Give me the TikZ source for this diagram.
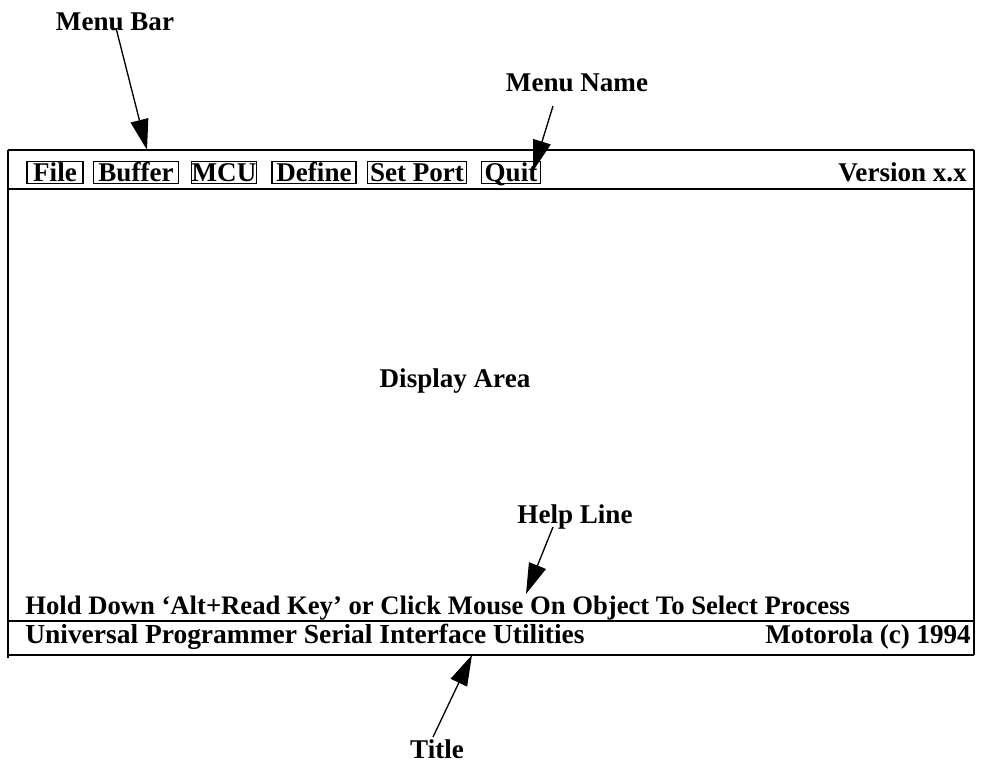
\documentclass[tikz,border=0pt]{standalone}
\usepackage{fontspec}
\setmainfont{Liberation Serif}
\usetikzlibrary{arrows.meta}
\begin{document}
\begin{tikzpicture}[x=0.75pt,y=-0.75pt,
  txt/.style={font=\bfseries\fontsize{20.3}{23}\selectfont, inner sep=0pt},
  menubox/.style={txt, draw, line width=0.9pt, text height=13.8pt, text depth=1pt,
                  inner ysep=1pt, inner xsep=0pt, anchor=base},
  frame/.style={line width=1pt},
  callout/.style={line width=1pt, -{Triangle[length=23pt,width=13.5pt]}}
]
\useasboundingbox (0,0) rectangle (981,768);

% screen outline and separators
\draw[frame] (8,150) -- (974,150);
\draw[frame] (8,150) -- (8,658);
\draw[frame] (974,150) -- (974,655);
\draw[frame] (8,189) -- (974,189);
\draw[frame] (8,621) -- (974,621);
\draw[frame] (8,655) -- (974,655);

% menu bar entries
\node[menubox, minimum width=42pt]    (mfile)   at (55,181)  {File};
\node[menubox, minimum width=63.75pt] (mbuffer) at (136,181) {Buffer};
\node[menubox, minimum width=49pt]    (mmcu)    at (224,181) {MCU};
\node[menubox, minimum width=63pt]    (mdefine) at (314,181) {Define};
\node[menubox, minimum width=74.25pt] (mport)   at (417,181) {Set Port};
\node[menubox, minimum width=44.5pt]  (mquit)   at (511,181) {Quit};
\node[txt, anchor=base east] (version) at (967,181) {Version x.x};

% display area
\node[txt, anchor=base] (display) at (455,387) {Display Area};

% help line and title line
\node[txt, anchor=base west, font=\bfseries\fontsize{20}{23}\selectfont] (help) at (25,614)
  {Hold Down ‘Alt+Read Key’ or Click Mouse On Object To Select Process};
\node[txt, anchor=base west, font=\bfseries\fontsize{20.6}{23}\selectfont] (title) at (25,643)
  {Universal Programmer Serial Interface Utilities};
\node[txt, anchor=base east] (copy) at (971,643) {Motorola (c) 1994};

% callout labels
\node[txt, anchor=base] (lmenubar)  at (115,30)  {Menu Bar};
\node[txt, anchor=base] (lmenuname) at (577,91)  {Menu Name};
\node[txt, anchor=base] (lhelp)     at (575,523) {Help Line};
\node[txt, anchor=base] (ltitle)    at (437,758) {Title};

% callout anchor points
\coordinate (smenubar)  at (116,28);
\coordinate (tmenubar)  at (147,150);
\coordinate (smenuname) at (553,106);
\coordinate (tmenuname) at (533,171);
\coordinate (shelp)     at (553,527);
\coordinate (thelp)     at (526,594);
\coordinate (stitle)    at (433,737);
\coordinate (ttitle)    at (472,655);

\draw[callout] (smenubar)  -- (tmenubar);
\draw[callout] (smenuname) -- (tmenuname);
\draw[callout] (shelp)     -- (thelp);
\draw[callout] (stitle)    -- (ttitle);
\end{tikzpicture}
\end{document}
